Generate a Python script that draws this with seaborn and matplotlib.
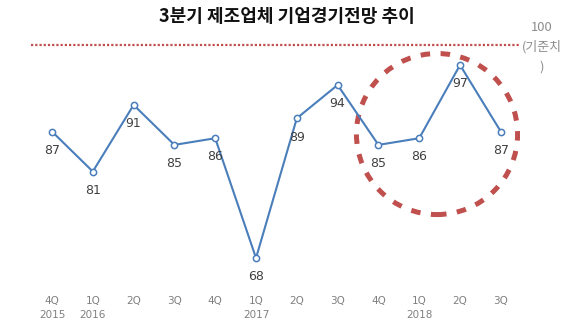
import matplotlib
matplotlib.use("Agg")
import matplotlib.pyplot as plt
import seaborn as sns
import pandas as pd
from matplotlib.patches import Ellipse
import matplotlib.transforms as mtransforms

quarters = ["4Q", "1Q", "2Q", "3Q", "4Q", "1Q", "2Q", "3Q", "4Q", "1Q", "2Q", "3Q"]
years = ["2015", "2016", "", "", "", "2017", "", "", "", "2018", "", ""]
values = [87, 81, 91, 85, 86, 68, 89, 94, 85, 86, 97, 87]
baseline = 100
title = "3분기 제조업체 기업경기전망 추이"
baseline_label = "100\n(기준치\n)"

sns.set_theme(style="white")
plt.rcParams['font.family'] = ['Noto Sans CJK KR', 'DejaVu Sans']

W, H = 574, 325
fig = plt.figure(figsize=(W / 100, H / 100), dpi=100)
ax = fig.add_axes([31 / W, 1 - 270 / H, 489 / W, 230 / H])

df = pd.DataFrame({"idx": range(len(values)), "value": values})
blue = "#4a7ebb"
red = "#c0504d"
sns.lineplot(data=df, x="idx", y="value", ax=ax, color=blue, linewidth=1.5,
             marker="o", markersize=4.5, markerfacecolor="white",
             markeredgecolor=blue, markeredgewidth=1.1, zorder=3)

ax.set_xlim(-0.515, 11.47)
ax.set_ylim(66.2, 100.76)

ax.axhline(baseline, color=red, linestyle=(0, (1, 0.9)), linewidth=1.6, zorder=2)

for i, v in enumerate(values):
    ax.annotate(str(v), (i, v), xytext=(0, -13.5), textcoords="offset points",
                ha="center", va="center", fontsize=9, color="#404040",
                family=['DejaVu Sans'])

ell = Ellipse((9.436, 86.63), width=3.95, height=24.2, fill=False,
              edgecolor=red, linewidth=3.6, linestyle=(0, (1.9, 2.1)), zorder=1)
ax.add_patch(ell)

ax.set_xticks(range(len(quarters)))
ax.set_xticklabels(quarters, fontsize=7.5, color="#808080", family=['DejaVu Sans'])
ax.tick_params(axis="x", length=0, pad=19)
ax.set_yticks([])
ax.set_xlabel("")
ax.set_ylabel("")
for s in ax.spines.values():
    s.set_visible(False)

trans = mtransforms.blended_transform_factory(ax.transData, fig.transFigure)
for i, y in enumerate(years):
    if y:
        ax.text(i, 1 - 315 / H, y, transform=trans, ha="center", va="center",
                fontsize=7.5, color="#808080", family=['DejaVu Sans'])

fig.text(542 / W, 1 - 47 / H, baseline_label, ha="center", va="center",
         fontsize=9.3, color="#8c8c8c", linespacing=1.65)

fig.text(287 / W, 1 - 17 / H, title, ha="center", va="center",
         fontsize=13, fontweight="bold", color="#111111")

fig.savefig("out.png", dpi=100)
